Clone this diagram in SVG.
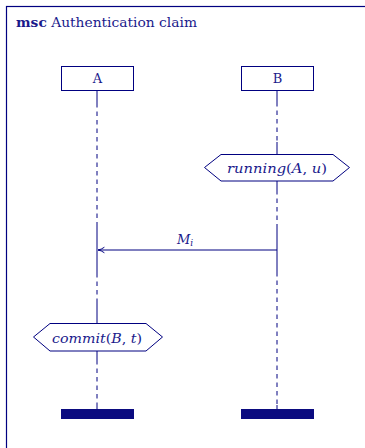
<svg xmlns="http://www.w3.org/2000/svg" width="365" height="448" viewBox="0 0 365 448">
<style>
text{font-family:'DejaVu Serif','Liberation Serif',serif;fill:#1a1a8c}
.ln{stroke:#000080;stroke-width:1;fill:none}
.d{stroke-dasharray:4.5 4}
.box{fill:#fff;stroke:#000080;stroke-width:1}
.bar{fill:#0b0b80}
.it{font-style:italic}
</style>
<defs>
<marker id="ah" viewBox="0 0 10 10" refX="9" refY="5" markerWidth="8" markerHeight="8" orient="auto-start-reverse" markerUnits="userSpaceOnUse">
<path d="M1,1.5 Q5,4.5 9,5 Q5,5.5 1,8.5" fill="none" stroke="#000080" stroke-width="1.2"/>
</marker>
</defs>
<rect x="6.5" y="6.5" width="370" height="450" fill="none" stroke="#000080" stroke-width="1.2"/>
<text x="16" y="26.5" font-size="13" textLength="181" lengthAdjust="spacingAndGlyphs"><tspan font-weight="bold">msc</tspan> Authentication claim</text>
<g id="connectors">
<path class="ln" d="M97,90V103M97,225V273M97,300V323M97,351V360M97,405V409"/>
<path class="ln d" d="M97,103V225M97,273V300M97,360V405"/>
<path class="ln" d="M277,90V102M277,142V154M277,181V190M277,227V272M277,405V409"/>
<path class="ln d" d="M277,102V142M277,190V227M277,272V405"/>
<line class="ln" x1="277" y1="250" x2="98" y2="250" marker-end="url(#ah)"/>
<text x="177" y="244" font-size="13" class="it">M<tspan font-size="9" dy="2">i</tspan></text>
</g>
<g id="A">
<rect class="box" x="61.5" y="66.5" width="72" height="24"/>
<text x="97.5" y="83" font-size="13" text-anchor="middle">A</text>
</g>
<g id="B">
<rect class="box" x="241.5" y="66.5" width="72" height="24"/>
<text x="277.5" y="83" font-size="13" text-anchor="middle">B</text>
</g>
<g id="running">
<polygon class="box" points="204.5,167.5 221,154.5 333,154.5 349.5,167.5 333,181 221,181"/>
<text x="277" y="172.5" font-size="13" text-anchor="middle" textLength="100" lengthAdjust="spacingAndGlyphs"><tspan class="it">running</tspan>(<tspan class="it">A</tspan>, <tspan class="it">u</tspan>)</text>
</g>
<g id="commit">
<polygon class="box" points="33.5,337 50,323.5 146,323.5 162.5,337 146,351 50,351"/>
<text x="97" y="342.5" font-size="13" text-anchor="middle" textLength="90" lengthAdjust="spacingAndGlyphs"><tspan class="it">commit</tspan>(<tspan class="it">B</tspan>, <tspan class="it">t</tspan>)</text>
</g>
<g id="endA"><rect class="bar" x="61" y="409" width="73" height="10"/></g>
<g id="endB"><rect class="bar" x="241" y="409" width="73" height="10"/></g>
</svg>
